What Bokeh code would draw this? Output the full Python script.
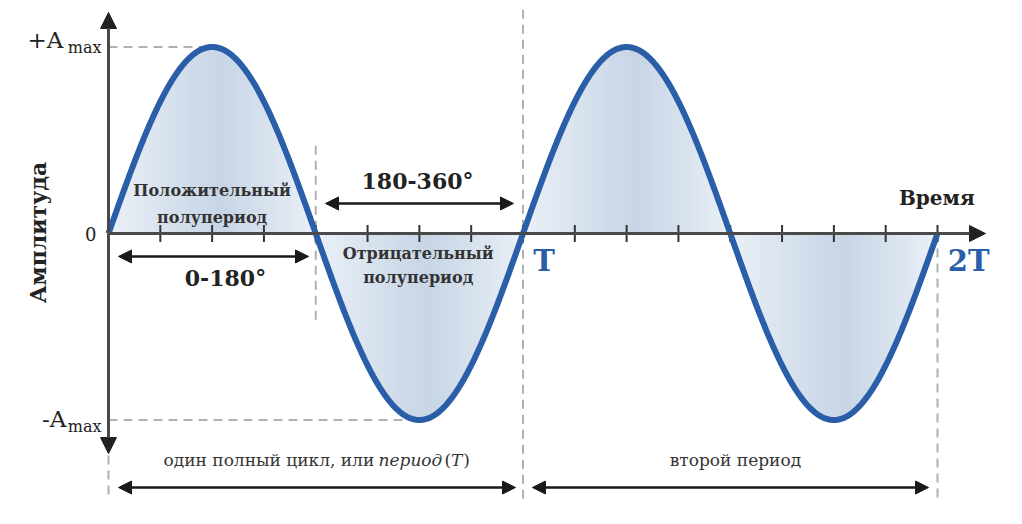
import numpy as np
from bokeh.plotting import figure
from bokeh.models import Range1d, Arrow, NormalHead
from bokeh.core.properties import value
from bokeh.embed import file_html
from bokeh.resources import INLINE

# ---------------- data ----------------
AMPLITUDE = 1.0
PERIOD_DEG = 360
N_PERIODS = 2
phase_deg = np.linspace(0, PERIOD_DEG * N_PERIODS, 721)
signal = AMPLITUDE * np.sin(np.radians(phase_deg))
tick_deg = [45 * i for i in range(1, 17)]
period_marks = [PERIOD_DEG, 2 * PERIOD_DEG]
period_labels = ["T", "2T"]
y_labels = ["+A", "-A"]
y_label_values = [AMPLITUDE, -AMPLITUDE]

# ---------------- layout helpers ----------------
PX_PER_DEG = 829 / 720
PX_PER_AMP = 186.5
FONT = value("DejaVu Serif")
BLUE = "#2a5ea9"
AX = "#4a4a4a"
DASH = "#b0b0b0"

W, H = 1006, 508
x0 = (0 - 108) / PX_PER_DEG
x1 = x0 + W / PX_PER_DEG
y1 = (233 - 0) / PX_PER_AMP
y0 = y1 - H / PX_PER_AMP

p = figure(width=W, height=H, output_backend="svg", toolbar_location=None,
           x_range=Range1d(x0, x1), y_range=Range1d(y0, y1), min_border=0)
p.axis.visible = False
p.grid.visible = False
p.outline_line_color = None
p.background_fill_color = "white"
p.border_fill_color = "white"

# fill under curve: horizontal gradient strips per half-period
light = np.array([234, 240, 247])
dark = np.array([199, 213, 230])
STEP = 4
xs_list, ys_list, cols = [], [], []
for lobe_start in range(0, PERIOD_DEG * N_PERIODS, 180):
    for s in range(lobe_start, lobe_start + 180, STEP):
        mask = (phase_deg >= s) & (phase_deg <= s + STEP)
        t = (s + STEP / 2 - lobe_start) / 180.0
        w = t / 0.55 if t < 0.55 else 1 - (t - 0.55) / 0.45
        c = light + (dark - light) * max(0.0, w)
        cols.append("#%02x%02x%02x" % tuple(int(v) for v in c))
        xs = phase_deg[mask]
        xs_list.append(list(xs) + list(xs[::-1]))
        ys_list.append(list(signal[mask]) + [0.0] * len(xs))
p.patches(xs=xs_list, ys=ys_list, fill_color=cols, line_color=cols, line_width=1)

# dashed guide lines
dash = dict(line_color=DASH, line_width=2, line_dash="9 6")
p.segment(x0=[0, 0], y0=y_label_values, x1=[90, 270], y1=y_label_values, **dash)
p.segment(x0=[180, 360, 720, 0], y0=[0.47, 1.2, 0, -1.19],
          x1=[180, 360, 720, 0], y1=[-0.48, -1.43, -1.43, -1.43], **dash)

# axes
p.add_layout(Arrow(x_start=0, y_start=0, x_end=761.7, y_end=0, line_color=AX, line_width=3,
                   end=NormalHead(size=16, fill_color="#222", line_color="#222")))
p.add_layout(Arrow(x_start=0, y_start=0, x_end=0, y_end=1.185, line_color=AX, line_width=3,
                   end=NormalHead(size=16, fill_color="#222", line_color="#222")))
p.add_layout(Arrow(x_start=0, y_start=0, x_end=0, y_end=-1.18, line_color=AX, line_width=3,
                   end=NormalHead(size=16, fill_color="#222", line_color="#222")))

# ticks
p.segment(x0=tick_deg, y0=[-0.045] * len(tick_deg), x1=tick_deg, y1=[0.045] * len(tick_deg),
          line_color="#333", line_width=2)

# sine curve
p.line(phase_deg, signal, line_color=BLUE, line_width=6)

# double arrows
def darrow(xs, xe, y):
    p.add_layout(Arrow(x_start=xs, y_start=y, x_end=xe, y_end=y, line_color="#1a1a1a", line_width=2.5,
                       start=NormalHead(size=13, fill_color="#1a1a1a", line_color="#1a1a1a"),
                       end=NormalHead(size=13, fill_color="#1a1a1a", line_color="#1a1a1a")))

darrow(8.7, 173.7, -0.123)
darrow(188.5, 351.7, 0.161)
darrow(8.7, 353.5, -1.362)
darrow(368.2, 712.2, -1.362)

def txt(x, y, s, size, style="normal", align="center", color="#222", angle=0):
    p.text(x=[x], y=[y], text=[s], text_font=FONT, text_font_size=size, text_font_style=style,
           text_align=align, text_baseline="middle", text_color=color, angle=angle)

# y labels
txt(-39.1, 1.035, y_labels[0], "23px", align="right")
txt(-6.1, 0.997, "max", "16px", align="right")
txt(-36.5, -0.992, y_labels[1], "23px", align="right")
txt(-6.1, -1.035, "max", "16px", align="right")
txt(-10.4, 0, "0", "18px", align="right")
txt(-60.8, 0.005, "Амплитуда", "22px", style="bold", angle=np.pi / 2)

# half-period labels
txt(90, 0.231, "Положительный", "16px", style="bold", color="#333")
txt(90, 0.086, "полупериод", "16px", style="bold", color="#333")
txt(269, -0.107, "Отрицательный", "16px", style="bold", color="#333")
txt(269, -0.236, "полупериод", "16px", style="bold", color="#333")
txt(101.6, -0.236, "0-180°", "22px", style="bold")
txt(268.4, 0.284, "180-360°", "22px", style="bold")

# period labels
for m, lab in zip(period_marks, period_labels):
    txt(m + 9, -0.145, lab, "29px", style="bold", align="left", color=BLUE)
txt(719.4, 0.193, "Время", "20px", style="bold")

# bottom labels
txt(47.8, -1.217, "один полный цикл, или", "17px", align="left", color="#333")
txt(234.5, -1.217, "период", "17px", style="italic", align="left", color="#333")
txt(291.8, -1.217, "(", "17px", align="left", color="#333")
txt(297.5, -1.217, "T", "17px", style="italic", align="left", color="#333")
txt(308.0, -1.217, ")", "17px", align="left", color="#333")
txt(544.5, -1.217, "второй период", "17px", color="#333")

open("out.html", "w").write(file_html(p, INLINE))
